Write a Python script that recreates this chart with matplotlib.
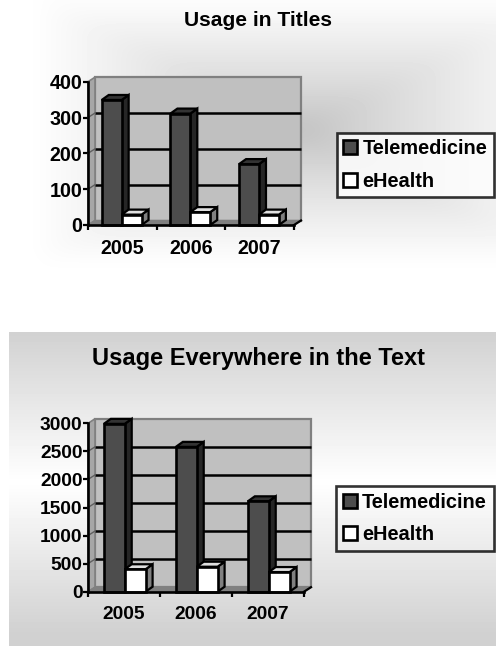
import numpy as np
import matplotlib
matplotlib.use("Agg")
import matplotlib.pyplot as plt
from matplotlib.patches import Polygon, Patch

plt.rcParams['font.family'] = ['Liberation Sans', 'DejaVu Sans']
plt.rcParams['font.weight'] = 'bold'

W, H = 496, 646
years = ['2005', '2006', '2007']
series_names = ['Telemedicine', 'eHealth']
titles_tele = [349, 311, 170]
titles_ehealth = [29, 36, 29]
text_tele = [2990, 2580, 1610]
text_ehealth = [400, 445, 350]
titles_ticks = [0, 100, 200, 300, 400]
text_ticks = [0, 500, 1000, 1500, 2000, 2500, 3000]

DARK, DARK_SIDE, DARK_TOP = '#4d4d4d', '#262626', '#333333'
LIGHT, LIGHT_SIDE, LIGHT_TOP = '#ffffff', '#808080', '#e0e0e0'

fig = plt.figure(figsize=(W / 100, H / 100), dpi=100, facecolor='white')

# background gradients
bg = fig.add_axes([0, 0, 1, 1], zorder=0)
bg.set_xlim(0, W); bg.set_ylim(H, 0); bg.axis('off')
xx, yy = np.meshgrid(np.arange(W) + .5, np.arange(H) + .5)
img = np.ones((H, W))
cx, cy, hw, hh = 300, 130, 270, 135
v = np.maximum(np.abs(xx - cx) / hw, np.abs(yy - cy) / hh)
top_grad = np.clip(0.75 + 0.25 * np.clip(v, 0, 1) ** 0.8, 0, 1)
top_grad = np.where(v >= 1, 1.0, top_grad)
kernel = np.ones(31) / 31
top_grad = np.apply_along_axis(lambda r: np.convolve(np.pad(r, 15, mode='edge'), kernel, 'valid'), 1, top_grad)
top_grad = np.apply_along_axis(lambda r: np.convolve(np.pad(r, 15, mode='edge'), kernel, 'valid'), 0, top_grad)
img = np.where(yy < 320, top_grad, img)
mask = (xx >= 9) & (yy >= 332)
img = np.where(mask, 1.0 - 0.18 * np.clip(np.abs(yy - 482) / 150, 0, 1), img)
bg.imshow(img, cmap='gray', vmin=0, vmax=1, extent=(0, W, H, 0), aspect='auto', interpolation='nearest')


def chart(box, tele, ehealth, ticks, title, title_xy, title_size, tick_size,
          bar_x, legend_xy, legend_fc, dx_px, dy_px, dy_bar):
    left, right, y0, ytop = box
    ax = fig.add_axes([left / W, 1 - y0 / H, (right - left) / W, (y0 - ytop) / H], zorder=2)
    ax.patch.set_alpha(0)
    ax.set_xlim(0, 3)
    ax.set_ylim(0, ticks[-1])
    px = 3 / (right - left)
    py = ticks[-1] / (y0 - ytop)
    dx, dy = dx_px * px, dy_px * py
    ymax = ticks[-1]
    clip = dict(clip_on=False)
    # wall
    ax.add_patch(Polygon([(dx, dy), (dx, ymax + dy), (3 + dx, ymax + dy), (3 + dx, dy)],
                         fc='#c0c0c0', ec='#808080', lw=1.6, zorder=1, **clip))
    ax.add_patch(Polygon([(0, 0), (dx, dy), (dx, ymax + dy), (0, ymax)],
                         fc='#a6a6a6', ec='#808080', lw=1.2, zorder=1, **clip))
    ax.add_patch(Polygon([(0, 0), (dx, dy), (3 + dx, dy), (3, 0)],
                         fc='#808080', ec='#808080', lw=1, zorder=1, **clip))
    for t in ticks[1:-1]:
        ax.plot([dx, 3 + dx], [t + dy, t + dy], color='black', lw=1.8, zorder=2,
                solid_capstyle='butt', **clip)
        ax.plot([0, dx], [t, t + dy], color='#606060', lw=1, zorder=2, **clip)
    ax.plot([3, 3 + dx], [0, dy], color='black', lw=1.6, zorder=6, **clip)
    # bars
    w = 0.29
    ec = dict(edgecolor='black', linewidth=1.9)
    xt = np.arange(3) + bar_x
    xe = xt + w
    for xs, vals, fc, sc, tc, z in [(xt, tele, DARK, DARK_SIDE, DARK_TOP, 3),
                                    (xe, ehealth, LIGHT, LIGHT_SIDE, LIGHT_TOP, 4)]:
        ax.bar(xs, vals, width=w, align='edge', color=fc, zorder=z + .5, clip_on=False, **ec)
        bdx, bdy = dx, dy_bar * py
        for x_, val in zip(xs, vals):
            ax.add_patch(Polygon([(x_ + w, 0), (x_ + w + bdx, bdy), (x_ + w + bdx, val + bdy), (x_ + w, val)],
                                 fc=sc, lw=1.6, ec='black', zorder=z, **clip))
            ax.add_patch(Polygon([(x_, val), (x_ + bdx, val + bdy), (x_ + w + bdx, val + bdy), (x_ + w, val)],
                                 fc=tc, lw=1.6, ec='black', zorder=z, **clip))
    # axes
    for s in ('top', 'right'):
        ax.spines[s].set_visible(False)
    for s in ('left', 'bottom'):
        ax.spines[s].set_linewidth(1.9)
        ax.spines[s].set_zorder(7)
    ax.set_yticks(ticks)
    ax.set_xticks([0, 1, 2, 3])
    ax.set_xticklabels([])
    ax.set_xticks([.5, 1.5, 2.5], minor=True)
    ax.set_xticklabels(years, minor=True, fontsize=tick_size, fontweight='bold')
    ax.tick_params(axis='x', which='minor', length=0, pad=10)
    ax.tick_params(axis='x', which='major', length=3.5, width=1.6, direction='out')
    ax.tick_params(axis='y', labelsize=tick_size, length=3.5, width=1.6, pad=0.5)
    fig.text(title_xy[0] / W, 1 - title_xy[1] / H, title, ha='center', va='center',
             fontsize=title_size, fontweight='bold', color='black', zorder=5)
    hs = [Patch(fc=DARK, ec='black', lw=1.9), Patch(fc=LIGHT, ec='black', lw=1.9)]
    leg = fig.legend(hs, series_names, loc='upper left',
                     bbox_to_anchor=(legend_xy[0] / W, 1 - legend_xy[1] / H),
                     borderaxespad=0, fontsize=14.4, handlelength=.7, handleheight=.7,
                     handletextpad=.28, borderpad=.33, labelspacing=.68, fancybox=False,
                     edgecolor='black', facecolor=legend_fc, framealpha=None)
    leg.get_frame().set_linewidth(1.9)
    leg.set_zorder(6)


chart((88, 294, 225, 81.7), titles_tele, titles_ehealth, titles_ticks, 'Usage in Titles',
      (258, 20), 15.1, 14.2, 0.2, (336.5, 132.5), 'white', 7, 4.5, 5)
chart((88, 304, 591.7, 423.3), text_tele, text_ehealth, text_ticks, 'Usage Everywhere in the Text',
      (258, 358), 17, 13.8, 0.22, (336, 486), 'none', 7, 4.5, 5)

fig.savefig('out.png', dpi=100)
